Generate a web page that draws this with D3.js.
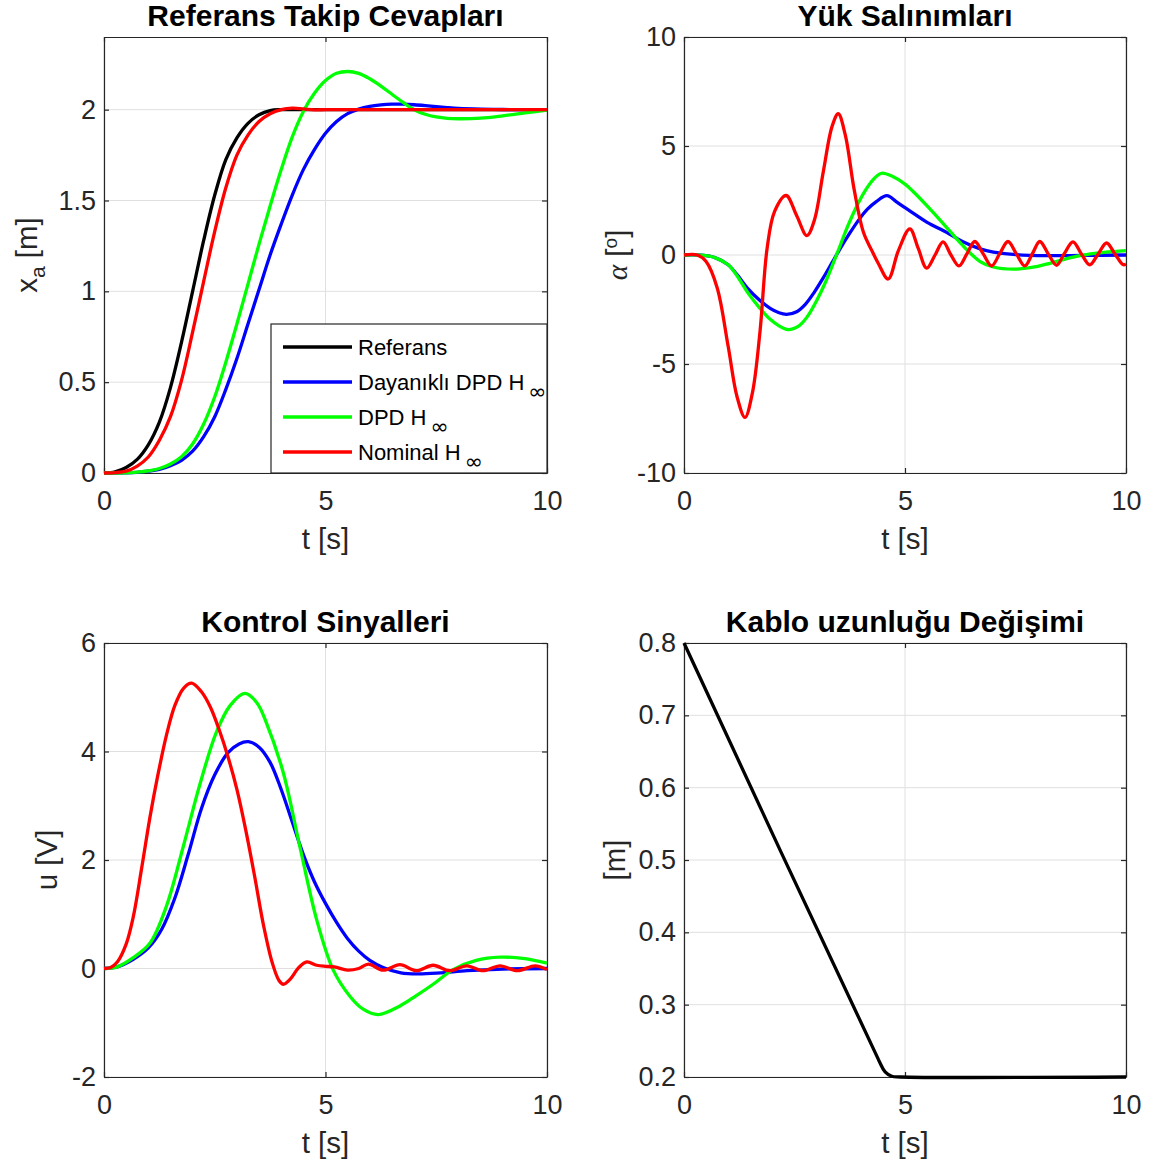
<!DOCTYPE html>
<html>
<head>
<meta charset="utf-8">
<script src="https://cdn.jsdelivr.net/npm/d3@7"></script>
<style>
  body { margin: 0; background: #fff; }
  svg text { font-family: "Liberation Sans", Arial, Helvetica, sans-serif; }
</style>
</head>
<body>
<div id="chart"></div>
<script>
// ---- data ----
var tXa = [0,0.25,0.5,0.75,1,1.25,1.5,1.75,2,2.25,2.5,2.75,3,3.25,3.5,3.75,4,4.25,4.5,4.75,5,5.25,5.5,5.75,6,6.25,6.5,6.75,7,7.25,7.5,7.75,8,8.5,9,9.5,10];
var xaRef    = [0,0.006,0.03,0.075,0.155,0.28,0.47,0.72,1.0,1.28,1.53,1.725,1.845,1.925,1.972,1.995,2,2,2,2,2,2,2,2,2,2,2,2,2,2,2,2,2,2,2,2,2];
var xaRobust = [0,0,0.001,0.004,0.01,0.02,0.04,0.07,0.12,0.2,0.31,0.46,0.63,0.82,1.01,1.2,1.37,1.53,1.67,1.78,1.87,1.935,1.978,2.003,2.018,2.026,2.03,2.03,2.027,2.022,2.016,2.011,2.007,2.003,2.001,2.0,2.0];
var xaDpd    = [0,0,0.001,0.005,0.012,0.025,0.05,0.09,0.16,0.27,0.42,0.61,0.82,1.04,1.26,1.47,1.67,1.85,1.99,2.09,2.16,2.2,2.21,2.2,2.17,2.13,2.085,2.04,2.0,1.975,1.96,1.952,1.95,1.953,1.966,1.982,1.998];
var xaNom    = [0,0.002,0.01,0.038,0.088,0.18,0.31,0.51,0.775,1.055,1.33,1.57,1.75,1.86,1.935,1.978,2.0,2.008,2.004,1.999,2,2,2,2,2,2,2,2,2,2,2,2,2,2,2,2,2];

var tAlRobust = [0,0.4,0.7,1.0,1.2,1.45,1.7,1.95,2.15,2.32,2.55,2.75,2.95,3.15,3.35,3.55,3.75,3.95,4.15,4.35,4.59,4.8,5.0,5.2,5.5,5.94,6.3,6.7,7.0,7.45,8.2,9.0,10];
var alRobust  = [0,-0.01,-0.12,-0.45,-0.9,-1.55,-2.05,-2.45,-2.65,-2.72,-2.6,-2.25,-1.7,-1.05,-0.35,0.35,1.0,1.6,2.1,2.45,2.72,2.45,2.17,1.9,1.5,1.04,0.62,0.28,0.13,0.03,-0.03,-0.02,0];
var tAlDpd = [0,0.4,0.7,1.0,1.2,1.45,1.7,1.95,2.15,2.35,2.6,2.8,3.0,3.2,3.45,3.7,3.9,4.1,4.3,4.47,4.7,5.0,5.19,5.5,5.94,6.3,6.7,7.0,7.45,7.9,8.2,8.6,8.96,9.5,10];
var alDpd  = [0,-0.01,-0.12,-0.45,-0.95,-1.75,-2.4,-2.95,-3.25,-3.42,-3.25,-2.8,-2.1,-1.25,0.0,1.3,2.2,2.95,3.5,3.75,3.62,3.25,2.9,2.25,1.27,0.45,-0.3,-0.55,-0.65,-0.56,-0.42,-0.2,-0.03,0.12,0.2];
var tAlNom = [0,0.3,0.5,0.75,1.0,1.2,1.38,1.55,1.72,1.88,2.05,2.31,2.55,2.78,2.95,3.15,3.35,3.49,3.65,3.85,4.06,4.25,4.4,4.62,4.85,5.11,5.3,5.49,5.68,5.86,6.04,6.22,6.4,6.58,6.77,6.96,7.14,7.33,7.52,7.71,7.88,8.05,8.24,8.43,8.6,8.8,8.99,9.18,9.37,9.56,9.75,9.93,10];
var alNom  = [0,0,-0.3,-1.5,-4.2,-6.5,-7.45,-6.3,-3.5,0.3,2.0,2.73,1.8,0.89,1.6,3.8,5.9,6.48,5.5,3.0,1.04,0.2,-0.4,-1.1,0.2,1.2,0.3,-0.6,0.0,0.6,0.0,-0.5,0.05,0.62,0.05,-0.5,0.05,0.62,0.05,-0.5,0.05,0.62,0.05,-0.47,0.05,0.6,0.05,-0.45,0.05,0.55,0.05,-0.44,-0.42];

var tURobust = [0,0.3,0.66,1.0,1.3,1.6,1.9,2.2,2.5,2.8,3.05,3.26,3.5,3.75,4.0,4.25,4.5,4.75,5.0,5.25,5.5,5.75,6.0,6.3,6.7,7.1,7.6,8.2,9.0,10];
var uRobust  = [0,0.03,0.17,0.38,0.72,1.3,2.1,2.95,3.57,3.98,4.14,4.18,4.08,3.8,3.3,2.7,2.1,1.6,1.2,0.85,0.55,0.32,0.15,0.02,-0.08,-0.1,-0.08,-0.04,-0.01,0];
var tUDpd = [0,0.3,0.66,1.04,1.41,1.79,2.17,2.54,2.85,3.18,3.45,3.67,4.05,4.42,4.8,5.17,5.55,5.85,6.19,6.68,7.05,7.43,7.88,8.4,8.94,9.5,10];
var uDpd  = [0,0.03,0.2,0.47,1.15,2.25,3.41,4.36,4.85,5.07,4.9,4.52,3.6,2.25,0.9,-0.02,-0.51,-0.75,-0.85,-0.69,-0.5,-0.29,-0.02,0.15,0.21,0.18,0.1];
var tUNom = [0,0.15,0.3,0.5,0.66,0.85,1.04,1.2,1.41,1.6,1.8,1.98,2.2,2.4,2.6,2.8,3.0,3.2,3.4,3.6,3.8,3.95,4.05,4.2,4.4,4.58,4.8,5.0,5.2,5.5,5.75,5.97,6.3,6.68,7.05,7.43,7.8,8.19,8.55,8.94,9.33,9.73,10];
var uNom  = [0,0.02,0.12,0.45,0.95,1.85,2.8,3.5,4.3,4.85,5.17,5.26,5.1,4.82,4.4,3.9,3.3,2.55,1.7,0.8,0.1,-0.22,-0.29,-0.2,0.02,0.12,0.06,0.04,0.03,-0.03,0.0,0.08,-0.03,0.07,-0.04,0.06,-0.04,0.05,-0.04,0.05,-0.04,0.05,-0.02];

var tCable = [0,4.4,4.55,4.7,4.9,10];
var cable  = [0.8,0.224,0.207,0.201,0.2,0.2];

var seriesNames = ["Referans", "Dayanıklı DPD H", "DPD H", "Nominal H"];
var seriesSub   = ["", "∞", "∞", "∞"];
var seriesColors = ["#000000", "#0000ff", "#00ff00", "#ff0000"];

// ---- figure ----
var width = 1155, height = 1167;
var svg = d3.select("#chart").append("svg")
    .attr("width", width)
    .attr("height", height);

function zip(t, v) {
    return t.map(function(d, i) { return [d, v[i]]; });
}

function fmt(d) { return String(+d.toFixed(3)); }

function panel(o) {
    var x = d3.scaleLinear().domain([0, 10]).range([o.left, o.right]);
    var y = d3.scaleLinear().domain(o.yDomain).range([o.bottom, o.top]);
    var g = svg.append("g");

    // grid
    g.selectAll(".hg").data(o.yTicks).enter().append("line")
        .attr("x1", o.left).attr("x2", o.right)
        .attr("y1", function(d) { return y(d); }).attr("y2", function(d) { return y(d); })
        .attr("stroke", "#e0e0e0").attr("stroke-width", 1);
    g.selectAll(".vg").data([0, 5, 10]).enter().append("line")
        .attr("x1", function(d) { return x(d); }).attr("x2", function(d) { return x(d); })
        .attr("y1", o.top).attr("y2", o.bottom)
        .attr("stroke", "#e0e0e0").attr("stroke-width", 1);

    // axes, ticks inside, box
    var axes = [
        [d3.axisBottom(x).tickValues([0, 5, 10]).tickFormat(fmt).tickPadding(18), "translate(0," + o.bottom + ")"],
        [d3.axisTop(x).tickValues([0, 5, 10]).tickFormat(""), "translate(0," + o.top + ")"],
        [d3.axisLeft(y).tickValues(o.yTicks).tickFormat(fmt).tickPadding(8), "translate(" + o.left + ",0)"],
        [d3.axisRight(y).tickValues(o.yTicks).tickFormat(""), "translate(" + o.right + ",0)"]
    ];
    axes.forEach(function(a) {
        g.append("g")
            .attr("transform", a[1])
            .call(a[0].tickSizeInner(-5).tickSizeOuter(0))
            .attr("font-family", null)
            .attr("font-size", 27)
            .style("color", "#262626")
            .selectAll("path, line").attr("stroke-width", 1.2);
    });

    // curves
    var line = d3.line()
        .x(function(d) { return x(d[0]); })
        .y(function(d) { return y(d[1]); })
        .curve(d3.curveCatmullRom.alpha(0.5));
    g.selectAll(".curve").data(o.series).enter().append("path")
        .attr("d", function(s) { return line(zip(s.t, s.v)); })
        .attr("fill", "none")
        .attr("stroke", function(s) { return s.color; })
        .attr("stroke-width", 3.3)
        .attr("stroke-linejoin", "round");

    // title
    g.append("text")
        .attr("x", (o.left + o.right) / 2)
        .attr("y", o.top - 11)
        .attr("text-anchor", "middle")
        .attr("font-size", 30)
        .attr("font-weight", "bold")
        .attr("fill", "#000")
        .text(o.title);

    // x label
    g.append("text")
        .attr("x", (o.left + o.right) / 2)
        .attr("y", o.bottom + 76)
        .attr("text-anchor", "middle")
        .attr("font-size", 29.5)
        .attr("fill", "#262626")
        .text("t [s]");

    // y label
    var yl = g.append("text")
        .attr("transform", "translate(" + (o.left - o.ylabelOffset) + "," + ((o.top + o.bottom) / 2) + ") rotate(-90)")
        .attr("dy", "0.35em")
        .attr("text-anchor", "middle")
        .attr("font-size", 29.5)
        .attr("fill", "#262626");
    o.ylabel(yl);

    return { x: x, y: y, g: g };
}

var L = 104, R = 547, L2 = 684, R2 = 1126;
var T1 = 37, B1 = 473, T2 = 643, B2 = 1077;

var p1 = panel({
    left: L, right: R, top: T1, bottom: B1,
    yDomain: [0, 2.4], yTicks: [0, 0.5, 1, 1.5, 2],
    title: "Referans Takip Cevapları",
    ylabelOffset: 77,
    ylabel: function(t) {
        t.append("tspan").text("x");
        t.append("tspan").attr("font-size", 21).attr("dy", 8).text("a");
        t.append("tspan").attr("dy", -8).text(" [m]");
    },
    series: [
        { t: tXa, v: xaRef, color: seriesColors[0] },
        { t: tXa, v: xaRobust, color: seriesColors[1] },
        { t: tXa, v: xaDpd, color: seriesColors[2] },
        { t: tXa, v: xaNom, color: seriesColors[3] }
    ]
});

panel({
    left: L2, right: R2, top: T1, bottom: B1,
    yDomain: [-10, 10], yTicks: [-10, -5, 0, 5, 10],
    title: "Yük Salınımları",
    ylabelOffset: 67,
    ylabel: function(t) {
        t.append("tspan").attr("font-family", "'Liberation Serif', 'Times New Roman', serif")
            .attr("font-style", "italic").text("α");
        t.append("tspan").text(" [");
        t.append("tspan").attr("font-size", 19).attr("dy", -10).text("o");
        t.append("tspan").attr("dy", 10).text("]");
    },
    series: [
        { t: tAlRobust, v: alRobust, color: seriesColors[1] },
        { t: tAlDpd, v: alDpd, color: seriesColors[2] },
        { t: tAlNom, v: alNom, color: seriesColors[3] }
    ]
});

panel({
    left: L, right: R, top: T2, bottom: B2,
    yDomain: [-2, 6], yTicks: [-2, 0, 2, 4, 6],
    title: "Kontrol Sinyalleri",
    ylabelOffset: 57,
    ylabel: function(t) { t.text("u [V]"); },
    series: [
        { t: tURobust, v: uRobust, color: seriesColors[1] },
        { t: tUDpd, v: uDpd, color: seriesColors[2] },
        { t: tUNom, v: uNom, color: seriesColors[3] }
    ]
});

panel({
    left: L2, right: R2, top: T2, bottom: B2,
    yDomain: [0.2, 0.8], yTicks: [0.2, 0.3, 0.4, 0.5, 0.6, 0.7, 0.8],
    title: "Kablo uzunluğu Değişimi",
    ylabelOffset: 69,
    ylabel: function(t) { t.text("[m]"); },
    series: [
        { t: tCable, v: cable, color: "#000000" }
    ]
});

// legend (top-left panel, lower right corner)
var lg = p1.g.append("g");
var lgLeft = 271, lgTop = 324;
lg.append("rect")
    .attr("x", lgLeft).attr("y", lgTop)
    .attr("width", R - lgLeft).attr("height", B1 - lgTop)
    .attr("fill", "#fff")
    .attr("stroke", "#262626").attr("stroke-width", 1.2);

var rows = lg.selectAll(".row").data(seriesNames).enter().append("g")
    .attr("transform", function(d, i) { return "translate(0," + (lgTop + 23 + i * 35) + ")"; });
rows.append("line")
    .attr("x1", lgLeft + 12).attr("x2", lgLeft + 81)
    .attr("stroke", function(d, i) { return seriesColors[i]; })
    .attr("stroke-width", 3.3);
var lt = rows.append("text")
    .attr("x", lgLeft + 87)
    .attr("dy", "0.35em")
    .attr("font-size", 22)
    .attr("fill", "#000");
lt.append("tspan").text(function(d) { return d; });
lt.append("tspan")
    .attr("dx", 4).attr("dy", 9.5)
    .attr("font-family", "'DejaVu Sans', sans-serif")
    .attr("font-size", 22)
    .text(function(d, i) { return seriesSub[i]; });
</script>
</body>
</html>
